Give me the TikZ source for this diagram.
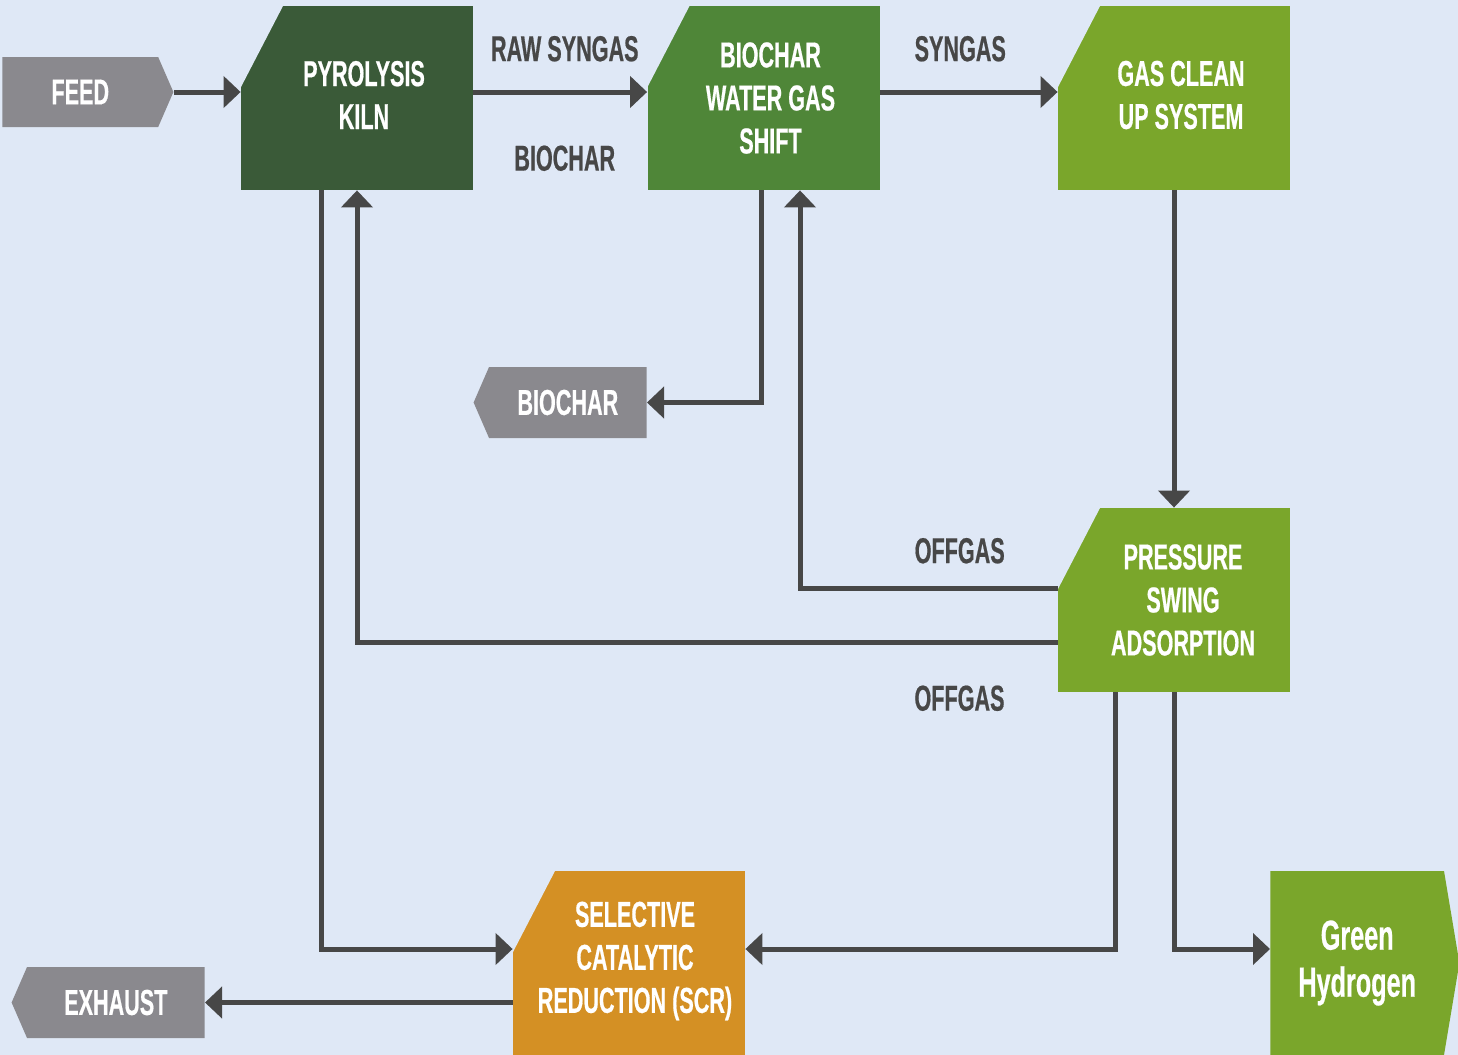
\documentclass[tikz,border=0pt]{standalone}
\usepackage{fontspec}
\usetikzlibrary{arrows.meta, shapes.symbols}
\newfontfamily\etroite[FakeStretch=0.6, BoldFeatures={FakeBold=0.5}]{Liberation Sans}
\definecolor{fond}{HTML}{DFE8F6}
\definecolor{vertfonce}{HTML}{3A5A38}
\definecolor{vertmoyen}{HTML}{4F8638}
\definecolor{vertclair}{HTML}{7AA62B}
\definecolor{ocre}{HTML}{D49024}
\definecolor{gris}{HTML}{8A898E}
\definecolor{trait}{HTML}{474747}

\begin{document}
\begin{tikzpicture}[x=0.5pt, y=-0.5pt]
	\tikzset{boite/.style={rectangle, minimum width=116pt, minimum height=92pt, inner sep=0pt,
			path picture={\fill[fond] (path picture bounding box.north west) -- ++(21pt,0pt) -- ++(-21pt,-40.5pt) -- cycle;}},
		titre/.style={inner sep=0pt, text=white, align=center, font=\etroite\bfseries\fontsize{18}{21.5}\selectfont},
		sortie/.style={signal, fill=gris, inner sep=0pt, text=white, align=center, signal pointer angle=133,
			font=\etroite\bfseries\fontsize{18}{21.5}\selectfont},
		fleche/.style={line width=2.5pt, draw=trait, -{Triangle[length=8.5pt, width=15.5pt]}},
		etiquette/.style={inner sep=0pt, text=trait, font=\etroite\bfseries\fontsize{18}{21.5}\selectfont}};

	\useasboundingbox (0,0) rectangle (1458,1055);
	\fill[fond] (0,0) rectangle (1458,1055);

	% process blocks
	\node[boite, fill=vertfonce] (four) at (357,98) {};
	\node[boite, fill=vertmoyen] (shift) at (763.5,98) {};
	\node[boite, fill=vertclair] (nettoyage) at (1174,98) {};
	\node[boite, fill=vertclair] (psa) at (1174,600) {};
	\node[boite, fill=ocre] (scr) at (629,963) {};

	\node[titre] (four-t) at ([xshift=3.5pt, yshift=1.5pt]four.center) {PYROLYSIS\\KILN};
	\node[titre] (shift-t) at ([xshift=3.5pt]shift.center) {BIOCHAR\\WATER GAS\\SHIFT};
	\node[titre] (nettoyage-t) at ([xshift=3.5pt, yshift=1.5pt]nettoyage.center) {GAS CLEAN\\UP SYSTEM};
	\node[titre] (psa-t) at ([xshift=4.5pt]psa.center) {PRESSURE\\SWING\\ADSORPTION};
	\node[titre] (scr-t) at ([xshift=3pt, yshift=1pt]scr.center) {SELECTIVE\\CATALYTIC\\REDUCTION (SCR)};

	% inputs and outputs
	\node[sortie, signal to=east, minimum width=85.5pt, minimum height=35pt, anchor=west] (feed) at (2,92) {FEED};
	\node[sortie, signal to=west, minimum width=86.5pt, minimum height=35.5pt, anchor=east] (biochar) at (647,402.5) {BIOCHAR};
	\node[sortie, signal to=west, minimum width=96.5pt, minimum height=35.5pt, anchor=east] (exhaust) at (205,1002.5) {EXHAUST};
	\node[sortie, fill=vertclair, signal to=east, signal pointer angle=161, minimum width=94.5pt, minimum height=92pt, anchor=west,
		font=\etroite\bfseries\fontsize{21}{23.5}\selectfont] (h2) at (1270,963) {Green\\Hydrogen};

	% flows
	\draw[fleche] (feed.east) -- (feed.east -| four.west);
	\draw[fleche] ([yshift=3pt]four.east) -- node[etiquette, above=14pt, xshift=2.25pt] (gazbrut) {RAW SYNGAS}
		node[etiquette, below=25.5pt, xshift=2.25pt] (charbon) {BIOCHAR} ([yshift=3pt]shift.west);
	\draw[fleche] ([yshift=3pt]shift.east) -- node[etiquette, above=14pt, xshift=-4.25pt] (gaz) {SYNGAS} ([yshift=3pt]nettoyage.west);
	\draw[fleche] (nettoyage.south) -- (psa.north);
	\draw[fleche] ([xshift=-1.25pt]shift.south) |- (biochar.east);
	\draw[fleche] ([yshift=6pt]psa.west) -| node[etiquette, pos=0.19, above=11pt] (offgashaut) {OFFGAS} ([xshift=18.25pt]shift.south);
	\draw[fleche] ([yshift=-21pt]psa.west) -| node[etiquette, pos=0.07, below=20.5pt] (offgasbas) {OFFGAS} (four.south);
	\draw[fleche] ([xshift=-18pt]four.south) |- ([yshift=7pt]scr.west);
	\draw[fleche] ([xshift=-29.5pt]psa.south) |- ([yshift=7pt]scr.east);
	\draw[fleche] (psa.south) |- ([yshift=7pt]h2.west);
	\draw[fleche] (exhaust.east -| scr.west) -- (exhaust.east);

\end{tikzpicture}
\end{document}
